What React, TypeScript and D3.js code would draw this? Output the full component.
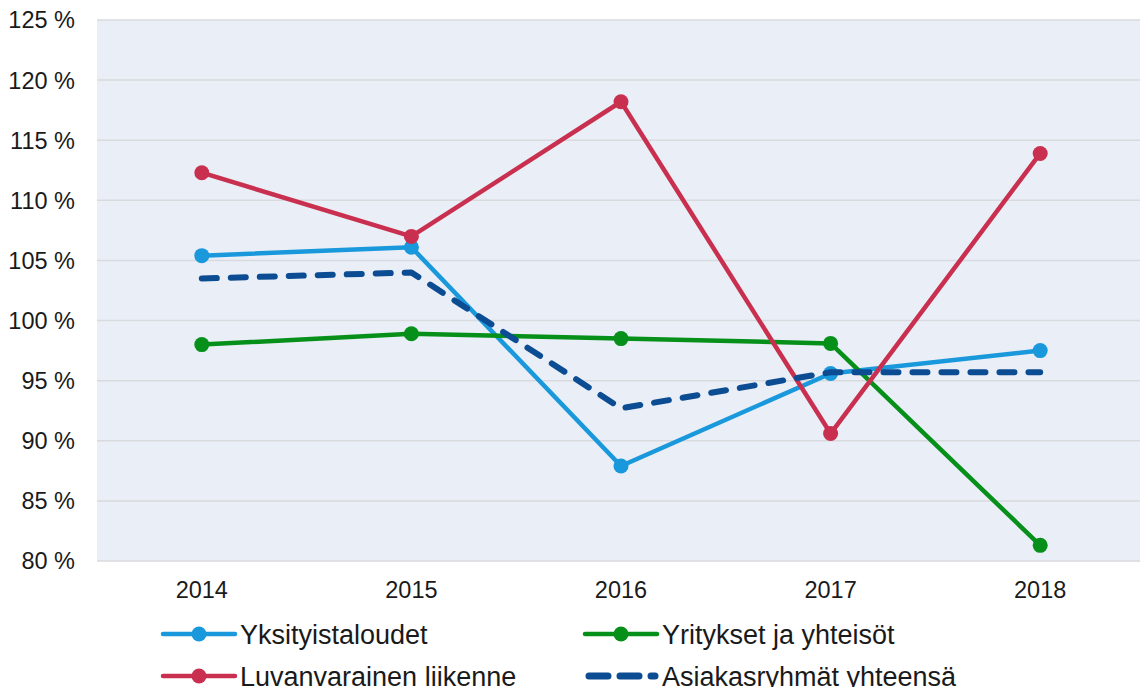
import { useEffect, useRef } from "react";
import * as d3 from "d3";

const years = ["2014", "2015", "2016", "2017", "2018"];
const yksityistaloudet = [105.4, 106.1, 87.9, 95.6, 97.5];
const yritykset = [98.0, 98.9, 98.5, 98.1, 81.3];
const luvanvarainen = [112.3, 107.0, 118.2, 90.6, 113.9];
const asiakasryhmat = [103.5, 104.0, 92.7, 95.7, 95.7];
const yTicks = [80, 85, 90, 95, 100, 105, 110, 115, 120, 125];

const series = [
  { name: "Yksityistaloudet", values: yksityistaloudet, color: "#1a98dc", dashed: false },
  { name: "Yritykset ja yhteisöt", values: yritykset, color: "#06901a", dashed: false },
  { name: "Luvanvarainen liikenne", values: luvanvarainen, color: "#c9304f", dashed: false },
  { name: "Asiakasryhmät yhteensä", values: asiakasryhmat, color: "#0b4c92", dashed: true },
];

export default function App() {
  const svgRef = useRef<SVGSVGElement>(null);
  const width = 1140, height = 687;

  useEffect(() => {
    const margin = { top: 20, right: -5, bottom: 126, left: 97 };
    const svg = d3.select(svgRef.current);
    svg.selectAll("*").remove();
    svg.attr("width", width).attr("height", height);

    const x = d3.scalePoint()
      .domain(years)
      .range([margin.left, width - margin.right])
      .padding(0.5);
    const y = d3.scaleLinear()
      .domain([80, 125])
      .range([height - margin.bottom, margin.top]);

    const font = "'Liberation Sans', Arial, sans-serif";

    // plot background
    svg.append("rect")
      .attr("x", margin.left)
      .attr("y", margin.top)
      .attr("width", width - margin.left)
      .attr("height", y(80) - margin.top)
      .attr("fill", "#e9eef7");

    // gridlines
    svg.append("g")
      .selectAll("line")
      .data(yTicks)
      .join("line")
        .attr("x1", margin.left)
        .attr("x2", width)
        .attr("y1", d => y(d))
        .attr("y2", d => y(d))
        .attr("stroke", "#d9dadd")
        .attr("stroke-width", 1.5);

    // y labels
    svg.append("g")
      .selectAll("text")
      .data(yTicks)
      .join("text")
        .attr("x", 75)
        .attr("y", d => y(d))
        .attr("dy", "0.36em")
        .attr("text-anchor", "end")
        .style("font-family", font)
        .style("font-size", "23.5px")
        .attr("fill", "#1a1a1a")
        .text(d => `${d} %`);

    // x labels
    svg.append("g")
      .selectAll("text")
      .data(years)
      .join("text")
        .attr("x", d => x(d)!)
        .attr("y", 598)
        .attr("text-anchor", "middle")
        .style("font-family", font)
        .style("font-size", "23.5px")
        .attr("fill", "#1a1a1a")
        .text(d => d);

    const line = d3.line<number>()
      .x((_, i) => x(years[i])!)
      .y(d => y(d));

    series.forEach(s => {
      const g = svg.append("g");
      g.append("path")
        .datum(s.values)
        .attr("d", line)
        .attr("fill", "none")
        .attr("stroke", s.color)
        .attr("stroke-width", s.dashed ? 6 : 4.5)
        .attr("stroke-linecap", s.dashed ? "round" : "butt")
        .attr("stroke-linejoin", "round")
        .attr("stroke-dasharray", s.dashed ? "15 14" : null);
      if (!s.dashed) {
        g.selectAll("circle")
          .data(s.values)
          .join("circle")
            .attr("cx", (_, i) => x(years[i])!)
            .attr("cy", d => y(d))
            .attr("r", 7.5)
            .attr("fill", s.color);
      }
    });

    // legend
    const legendPos = [
      { lx: 163, ty: 634 },
      { lx: 585, ty: 634 },
      { lx: 163, ty: 676 },
      { lx: 585, ty: 676 },
    ];
    series.forEach((s, i) => {
      const p = legendPos[i];
      const g = svg.append("g");
      if (s.dashed) {
        g.append("line")
          .attr("x1", p.lx + 4).attr("x2", p.lx + 70)
          .attr("y1", p.ty).attr("y2", p.ty)
          .attr("stroke", s.color)
          .attr("stroke-width", 7)
          .attr("stroke-linecap", "round")
          .attr("stroke-dasharray", "19 12");
      } else {
        g.append("line")
          .attr("x1", p.lx).attr("x2", p.lx + 72)
          .attr("y1", p.ty).attr("y2", p.ty)
          .attr("stroke", s.color)
          .attr("stroke-width", 4.5)
          .attr("stroke-linecap", "round");
        g.append("circle")
          .attr("cx", p.lx + 36).attr("cy", p.ty)
          .attr("r", 7.5).attr("fill", s.color);
      }
      g.append("text")
        .attr("x", p.lx + 77)
        .attr("y", p.ty + 10)
        .style("font-family", font)
        .style("font-size", "27px")
        .attr("fill", "#1a1a1a")
        .text(s.name);
    });
  }, []);

  return (
    <svg ref={svgRef} style={{ position: "absolute", left: 0, top: 0, display: "block" }}></svg>
  );
}
